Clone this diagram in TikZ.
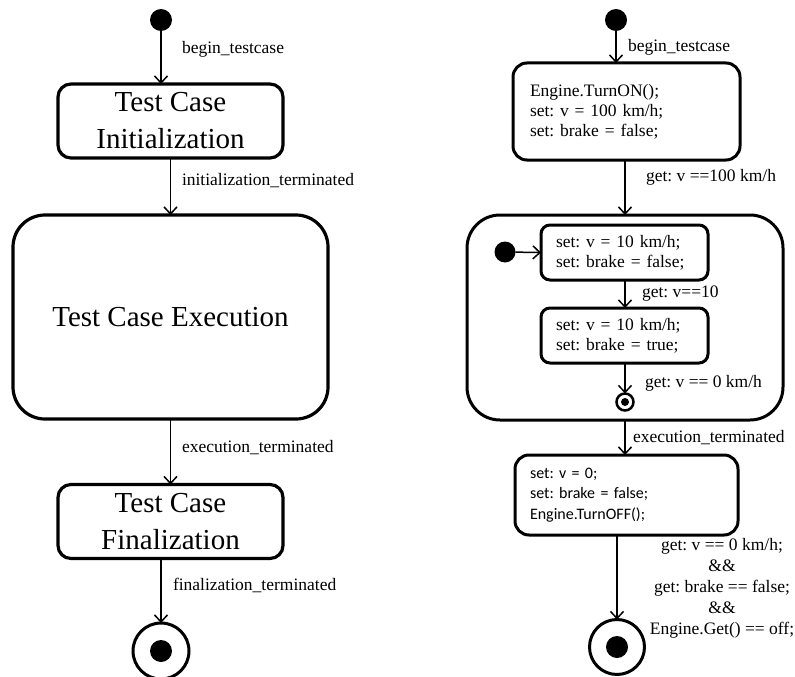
\documentclass[tikz,border=0pt]{standalone}
\usepackage{fontspec}
\setmainfont{Liberation Serif}
\newfontfamily\calib{Carlito}
\usetikzlibrary{arrows.meta}
\frenchspacing
\begin{document}
\begin{tikzpicture}[x=1pt,y=-1pt,
  every node/.style={inner sep=0pt,outer sep=0pt},
  trans/.style={line width=1.5pt,-{Straight Barb[length=7pt,width=13pt,line width=1.5pt]}},
  lbl/.style={anchor=base west,font=\fontsize{17.5}{20}\selectfont},
  bigstate/.style={draw,line width=3.2pt,rounded corners=13pt,align=center,
    font=\fontsize{29}{37}\selectfont},
  actstate/.style={draw,line width=3pt,rounded corners=14pt,align=left,
    font=\fontsize{17.5}{20}\selectfont},
  initdot/.style={circle,fill=black,minimum size=22pt},
  finring/.style={circle,draw,line width=3pt,minimum size=56pt},
  findot/.style={circle,fill=black,minimum size=22pt}]
\useasboundingbox (0,0) rectangle (795,677);

% ---------- generic test case life cycle ----------
\node[initdot] (L0) at (161,20) {};
\node[bigstate,minimum width=225pt,minimum height=74pt] (Linit) at (170.5,121)
  {Test Case\\Initialization};
\node[bigstate,rounded corners=32pt,minimum width=315pt,minimum height=204pt] (Lexec) at (170.5,317)
  {Test Case Execution};
\node[bigstate,minimum width=225pt,minimum height=74pt] (Lfin) at (170.5,521.5)
  {Test Case\\Finalization};
\node[finring] (Lend) at (161,651) {};
\node[findot] (Lenddot) at (161,651) {};

\draw[trans] (L0) -- (L0 |- Linit.north);
\draw[trans] (Linit.south) -- (Lexec.north);
\draw[trans] (Lexec.south) -- (Lfin.north);
\draw[trans] (Lend |- Lfin.south) -- (Lend.north);

\node[lbl] (Llb1) at (182,53) {begin\_testcase};
\node[lbl] (Llb2) at (182,185) {initialization\_terminated};
\node[lbl] (Llb3) at (182,452) {execution\_terminated};
\node[lbl] (Llb4) at (173,590) {finalization\_terminated};

% ---------- concrete braking test case ----------
\node[initdot] (R0) at (616,20) {};
\node[actstate,minimum width=227pt,minimum height=97pt,text width=193pt] (Rinit) at (626.5,111.5)
  {Engine.TurnON();\\set: v = 100 km/h;\\set: brake = false;};
\node[draw,line width=3pt,rounded corners=33pt,minimum width=316pt,minimum height=205pt] (Rexec) at (625,317.5) {};
\node[initdot,minimum size=21pt] (Rs0) at (505,252) {};
\node[actstate,rounded corners=9pt,minimum width=167pt,minimum height=55pt,text width=137pt] (Rs1) at (624.5,252.5)
  {set: v = 10 km/h;\\set: brake = false;};
\node[actstate,rounded corners=9pt,minimum width=167pt,minimum height=55pt,text width=137pt] (Rs2) at (624.5,335.5)
  {set: v = 10 km/h;\\set: brake = true;};
\node[circle,draw,line width=2.5pt,minimum size=17pt] (Rsend) at (625,402) {};
\node[circle,fill=black,minimum size=8pt] (Rsenddot) at (625,402) {};
\node[actstate,minimum width=223pt,minimum height=80pt,text width=193pt,
  font=\calib\fontsize{16}{20.5}\selectfont] (Rfin) at (626.5,495)
  {set: v = 0;\\set: brake = false;\\Engine.TurnOFF();};
\node[finring,minimum size=55pt] (Rend) at (617,647) {};
\node[findot] (Renddot) at (617,647) {};

\draw[trans] (R0) -- (R0 |- Rinit.north);
\draw[trans] (Rexec.north |- Rinit.south) -- (Rexec.north);
\draw[trans] (Rs0) -- (Rs1.west);
\draw[trans] (Rsend |- Rs1.south) -- (Rsend |- Rs2.north);
\draw[trans] (Rsend |- Rs2.south) -- (Rsend.north);
\draw[trans] (Rexec.south) -- (Rexec.south |- Rfin.north);
\draw[trans] (Rend |- Rfin.south) -- (Rend.north);

\node[lbl] (Rlb1) at (628,52) {begin\_testcase};
\node[lbl] (Rlb2) at (646,181) {get: v ==100 km/h};
\node[lbl] (Rlb3) at (642,297) {get: v==10};
\node[lbl] (Rlb4) at (645,387) {get: v == 0 km/h};
\node[lbl] (Rlb5) at (633,442) {execution\_terminated};
\node[anchor=north,align=center,font=\fontsize{17.5}{21}\selectfont] (Rlb6) at (722,538)
  {get: v == 0 km/h;\\\&\&\\get: brake == false;\\\&\&\\Engine.Get() == off;};
\end{tikzpicture}
\end{document}
